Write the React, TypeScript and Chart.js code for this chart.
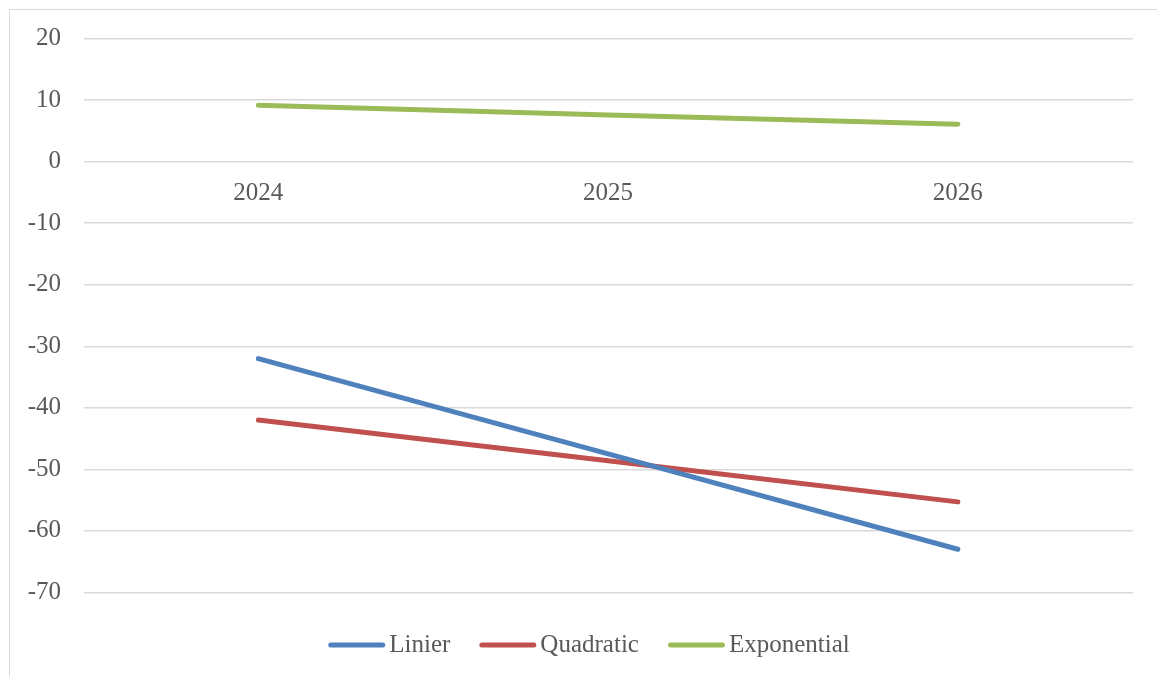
import React, { useEffect, useRef } from "react";
import { Chart, registerables } from "chart.js";

Chart.register(...registerables);

// Forecast years and the three trend series
const years = ["2024", "2025", "2026"];
const linier = [-32.0, -47.5, -63.0];
const quadratic = [-42.0, -48.6, -55.3];
const exponential = [9.2, 7.6, 6.1];

const seriesNames = ["Linier", "Quadratic", "Exponential"];
const seriesColors = ["#4F81BD", "#C0504D", "#9BBB59"];

// Value axis range
const yMin = -70;
const yMax = 20;
const yStep = 10;

const FONT_FAMILY = '"Liberation Serif", "Times New Roman", serif';
const FONT_SIZE = 25;
const TEXT_COLOR = "#595959";
const GRID_COLOR = "#D9D9D9";

// Legend drawn as short rounded line swatches followed by the series name
const lineLegend = {
  id: "lineLegend",
  afterDraw(chart: any) {
    const { ctx, chartArea } = chart;
    const swatch = 52;
    const lineW = 5;
    const cap = lineW / 2;
    const textGap = 4;
    const itemGap = 29;
    ctx.save();
    ctx.font = `${FONT_SIZE}px ${FONT_FAMILY}`;
    const items = chart.data.datasets.map((ds: any) => ({
      label: ds.label as string,
      color: ds.borderColor as string,
      w: ctx.measureText(ds.label).width as number,
    }));
    const widths = items.map((it: any) => cap * 2 + swatch + textGap + it.w);
    const total =
      widths.reduce((a: number, b: number) => a + b, 0) + itemGap * (items.length - 1);
    let x = chart.width / 2 - total / 2;
    const y = chartArea.bottom + 52.7;
    items.forEach((it: any, i: number) => {
      ctx.beginPath();
      ctx.strokeStyle = it.color;
      ctx.lineWidth = lineW;
      ctx.lineCap = "round";
      ctx.moveTo(x + cap, y);
      ctx.lineTo(x + cap + swatch, y);
      ctx.stroke();
      ctx.fillStyle = TEXT_COLOR;
      ctx.textAlign = "left";
      ctx.textBaseline = "middle";
      ctx.fillText(it.label, x + cap * 2 + swatch + textGap, y);
      x += widths[i] + itemGap;
    });
    ctx.restore();
  },
};

export default function App() {
  const canvasRef = useRef<HTMLCanvasElement | null>(null);

  useEffect(() => {
    if (!canvasRef.current) return;
    const values = [linier, quadratic, exponential];
    const chart = new Chart(canvasRef.current, {
      type: "line",
      data: {
        labels: years,
        datasets: values.map((data, i) => ({
          label: seriesNames[i],
          data,
          borderColor: seriesColors[i],
          backgroundColor: seriesColors[i],
          borderWidth: 5,
          borderCapStyle: "round",
          borderJoinStyle: "round",
          pointRadius: 0,
          pointHoverRadius: 0,
          tension: 0,
          fill: false,
        })),
      },
      options: {
        animation: false,
        responsive: true,
        maintainAspectRatio: false,
        layout: {
          padding: { left: 0, right: 35.3, top: 28.7, bottom: 83.7 },
        },
        plugins: {
          legend: { display: false },
          tooltip: { enabled: false },
        },
        scales: {
          x: {
            type: "category",
            position: { y: 0 } as any,
            offset: true,
            grid: { display: false, drawTicks: false },
            border: { display: false },
            ticks: {
              color: TEXT_COLOR,
              font: { family: FONT_FAMILY, size: FONT_SIZE },
              padding: 16.5,
              maxRotation: 0,
            },
            afterFit: (scale: any) => {
              scale.height = 0;
            },
          },
          y: {
            type: "linear",
            min: yMin,
            max: yMax,
            grid: { color: GRID_COLOR, lineWidth: 1.5, drawTicks: false },
            border: { display: false },
            ticks: {
              stepSize: yStep,
              color: TEXT_COLOR,
              font: { family: FONT_FAMILY, size: FONT_SIZE },
              padding: 22.5,
              callback: (v: any) => String(v),
            },
            afterFit: (scale: any) => {
              scale.width = 73.5;
              scale.paddingTop = 0;
              scale.paddingBottom = 0;
            },
          },
        },
      },
      plugins: [lineLegend],
    });
    return () => chart.destroy();
  }, []);

  return (
    <div
      style={{
        position: "fixed",
        left: 0,
        top: 0,
        width: 1157,
        height: 676,
        overflow: "hidden",
        background: "#fff",
      }}
    >
      <div
        style={{
          position: "absolute",
          left: 9,
          top: 9,
          width: 1180,
          height: 700,
          borderLeft: `1px solid ${GRID_COLOR}`,
          borderTop: `1px solid ${GRID_COLOR}`,
        }}
      >
        <div style={{ position: "relative", width: 1158, height: 666 }}>
          <canvas ref={canvasRef} />
        </div>
      </div>
    </div>
  );
}
